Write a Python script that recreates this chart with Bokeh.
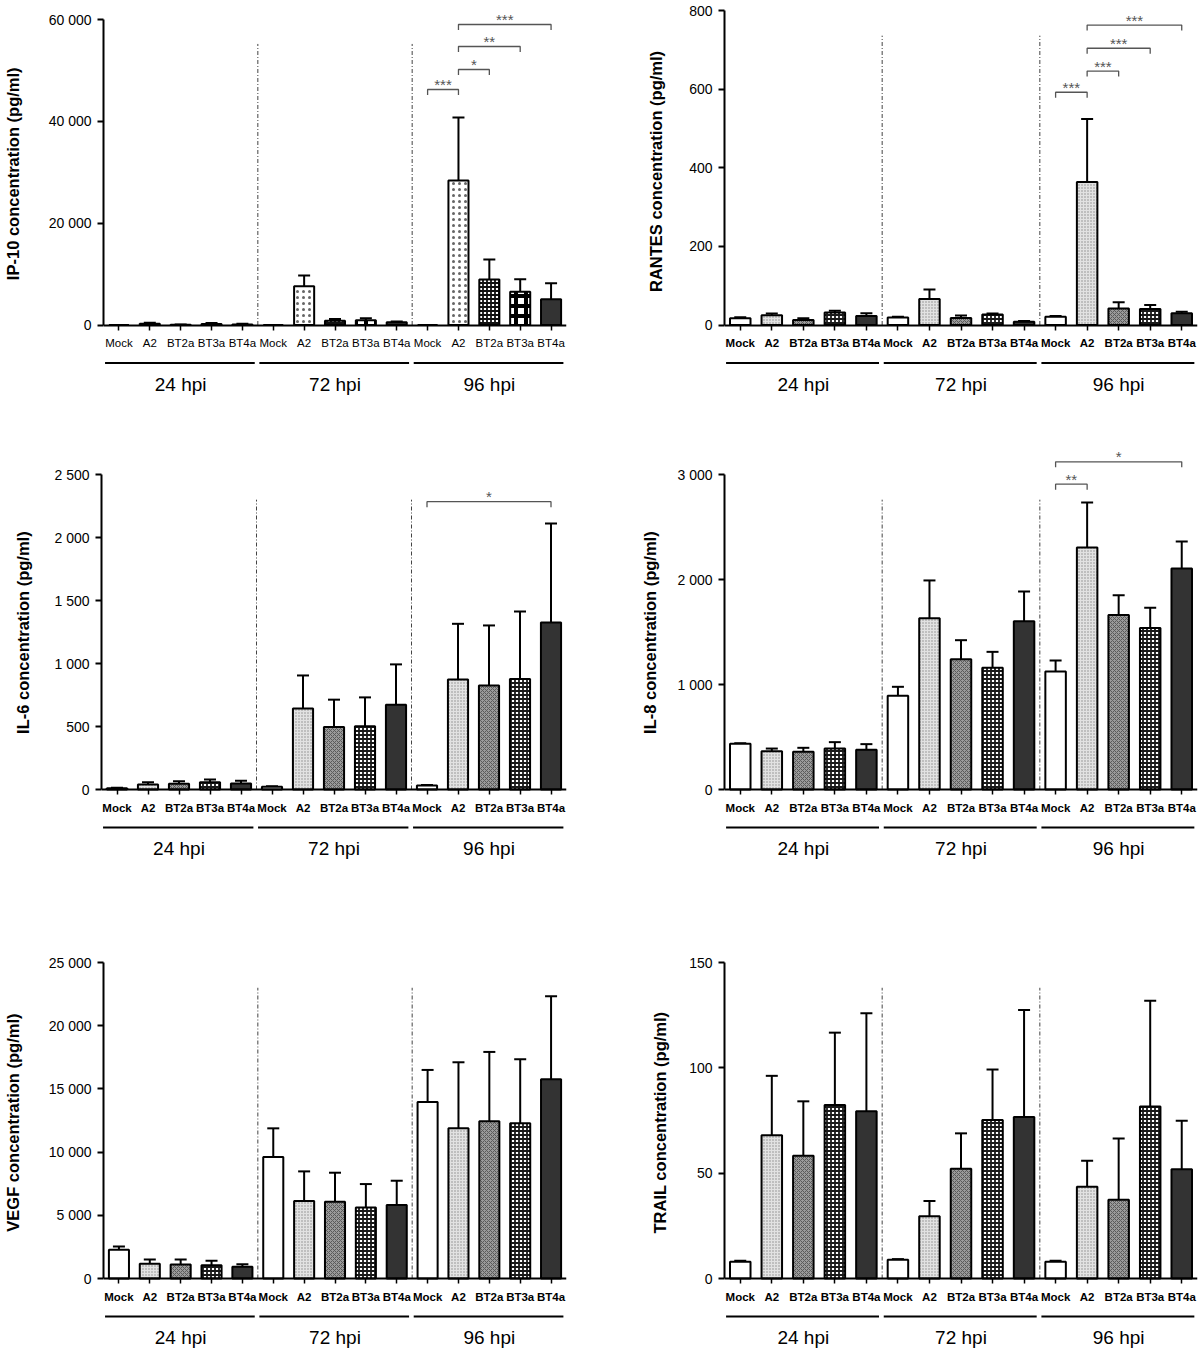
from bokeh.plotting import figure
from bokeh.layouts import column, row
from bokeh.models import ColumnDataSource, Range1d, FixedTicker, Whisker, TeeHead
from bokeh.core.properties import value
from bokeh.embed import file_html
from bokeh.resources import INLINE

# ---------------- data ----------------
treatments = ["Mock", "A2", "BT2a", "BT3a", "BT4a"]
timepoints = ["24 hpi", "72 hpi", "96 hpi"]

ip10_mean = [0, 230, 60, 180, 120, 0, 7620, 820, 950, 550, 0, 28380, 8940, 6520, 5070]
ip10_sd = [0, 220, 60, 220, 130, 0, 2100, 380, 390, 140, 0, 12370, 3920, 2480, 3140]
ip10_ticks = [0, 20000, 40000, 60000]
ip10_sig = [(10, 11, 46250, "***"), (11, 12, 50180, "*"), (11, 13, 54700, "**"), (11, 14, 59020, "***")]

rantes_mean = [17, 25, 13, 32, 23, 19, 66, 18, 27, 8, 21, 364, 42, 41, 30]
rantes_sd = [3, 4, 4, 4, 7, 2, 24, 6, 2, 2, 2, 160, 16, 10, 4]
rantes_ticks = [0, 200, 400, 600, 800]
rantes_sig = [(10, 11, 592, "***"), (11, 12, 646, "***"), (11, 13, 704, "***"), (11, 14, 763, "***")]

il6_mean = [10, 40, 45, 58, 48, 21, 642, 496, 502, 673, 32, 874, 826, 877, 1325]
il6_sd = [4, 18, 21, 21, 21, 4, 263, 217, 229, 320, 3, 441, 476, 535, 787]
il6_ticks = [0, 500, 1000, 1500, 2000, 2500]
il6_sig = [(10, 14, 2284, "*")]

il8_mean = [435, 365, 359, 390, 378, 892, 1632, 1241, 1159, 1603, 1124, 2305, 1661, 1537, 2105]
il8_sd = [5, 25, 38, 61, 54, 86, 359, 181, 152, 283, 105, 429, 190, 193, 257]
il8_ticks = [0, 1000, 2000, 3000]
il8_sig = [(10, 11, 2908, "**"), (10, 14, 3121, "*")]

vegf_mean = [2270, 1162, 1109, 1056, 924, 9610, 6125, 6072, 5623, 5808, 13965, 11880, 12434, 12276, 15760]
vegf_sd = [264, 343, 396, 343, 211, 2270, 2349, 2297, 1848, 1927, 2535, 5227, 5491, 5068, 6574]
vegf_ticks = [0, 5000, 10000, 15000, 20000, 25000]
vegf_sig = []

trail_mean = [7.9, 68.0, 58.3, 82.4, 79.4, 8.9, 29.5, 52.1, 75.2, 76.7, 7.9, 43.6, 37.4, 81.6, 51.8]
trail_sd = [0.5, 28.2, 25.8, 34.3, 46.5, 0.3, 7.3, 16.8, 24.0, 50.7, 0.5, 12.3, 29.0, 50.2, 23.1]
trail_ticks = [0, 50, 100, 150]
trail_sig = []

# ---------------- styles ----------------
FONT = "Liberation Sans"

STYLE_STD = {
    "Mock": dict(fill="#ffffff", hatch=" ", hcol="#000000", hscale=4, hw=1),
    "A2": dict(fill="#e2e2e2", hatch=".", hcol="#8a8a8a", hscale=3, hw=0.8),
    "BT2a": dict(fill="#9a9a9a", hatch="x", hcol="#5a5a5a", hscale=4, hw=1),
    "BT3a": dict(fill="#ffffff", hatch="+", hcol="#1a1a1a", hscale=4, hw=1.8),
    "BT4a": dict(fill="#333333", hatch=" ", hcol="#333333", hscale=4, hw=1),
}
STYLE_IP10 = {
    "Mock": dict(fill="#ffffff", hatch=" ", hcol="#000000", hscale=4, hw=1),
    "A2": dict(fill="#ffffff", hatch=".", hcol="#666666", hscale=6, hw=0.5),
    "BT2a": dict(fill="#ffffff", hatch="+", hcol="#111111", hscale=4, hw=1.8),
    "BT3a": dict(fill="#ffffff", hatch="+", hcol="#000000", hscale=10, hw=4),
    "BT4a": dict(fill="#333333", hatch=" ", hcol="#333333", hscale=4, hw=1),
}


def fmt(v):
    return f"{v:,}".replace(",", " ")


def panel(ylabel, mean, sd, ticks, sig, styles, cat_bold, geom, label_standoff, label_shift):
    (fig_l, fig_r, frame_l, frame_r, fig_t, fig_b, frame_t, frame_b, ymax_px, zero_px) = geom
    ymax = ticks[-1]
    per = ymax / (zero_px - ymax_px)           # data units per pixel
    y0 = -(frame_b - zero_px) * per
    y1 = ymax + (ymax_px - frame_t) * per

    p = figure(width=int(fig_r - fig_l), height=int(fig_b - fig_t),
               x_range=Range1d(-0.5, 14.5), y_range=Range1d(y0, y1),
               output_backend="svg", toolbar_location=None,
               min_border_left=int(frame_l - fig_l), min_border_right=int(fig_r - frame_r),
               min_border_top=int(frame_t - fig_t), min_border_bottom=int(fig_b - frame_b))
    p.outline_line_color = None
    p.grid.visible = False
    p.background_fill_color = "white"
    p.border_fill_color = "white"

    n = len(mean)
    xs = list(range(n))
    cats = [treatments[i % 5] for i in xs]
    tops = [m + s for m, s in zip(mean, sd)]
    src = ColumnDataSource(dict(
        x=xs, mean=mean, top=tops,
        fill=[styles[c]["fill"] for c in cats],
        hatch=[styles[c]["hatch"] for c in cats],
        hcol=[styles[c]["hcol"] for c in cats],
        hscale=[styles[c]["hscale"] for c in cats],
        hw=[styles[c]["hw"] for c in cats],
    ))

    # separators between time points
    sep_top = 0.92 * ymax
    p.segment(x0=[4.5, 9.5], y0=[0, 0], x1=[4.5, 9.5], y1=[sep_top, sep_top],
              line_color="#444444", line_width=1, line_dash="4 2 1 2")

    p.vbar(x="x", top="mean", bottom=0, width=0.65, source=src,
           fill_color="fill", hatch_pattern="hatch", hatch_color="hcol",
           hatch_scale="hscale", hatch_weight="hw",
           line_color="black", line_width=2)

    wh = Whisker(source=src, base="x", upper="top", lower="mean",
                 line_color="black", line_width=2,
                 upper_head=TeeHead(size=12, line_color="black", line_width=2),
                 lower_head=None)
    p.add_layout(wh)

    # significance brackets
    d = 5.5 * per
    for (i, j, yv, lab) in sig:
        p.multi_line(xs=[[i, i, j, j]], ys=[[yv - d, yv, yv, yv - d]],
                     line_color="#555555", line_width=1.3)
        p.text(x=[(i + j) / 2], y=[yv + 5 * per], text=[lab],
               text_align="center", text_baseline="middle",
               text_font=value(FONT), text_font_size="15px", text_color="#555555")

    # time point group lines and labels
    gl_y = -38 * per
    p.segment(x0=[g * 5 - 0.45 for g in range(3)], y0=[gl_y] * 3,
              x1=[g * 5 + 4.4 for g in range(3)], y1=[gl_y] * 3,
              line_color="black", line_width=1.8)
    p.text(x=[g * 5 + 2 for g in range(3)], y=[-59 * per] * 3, text=timepoints,
           text_align="center", text_baseline="middle",
           text_font=value(FONT), text_font_size="19px", text_color="black")

    # axes
    xa = p.xaxis[0]
    xa.fixed_location = 0
    xa.ticker = FixedTicker(ticks=xs)
    xa.major_label_overrides = {i: cats[i] for i in xs}
    xa.major_label_text_font = FONT
    xa.major_label_text_font_size = "11.5px"
    xa.major_label_text_color = "black"
    xa.major_label_text_font_style = "bold" if cat_bold else "normal"
    xa.major_label_standoff = 7
    xa.major_tick_in = 0
    xa.major_tick_out = 5
    xa.major_tick_line_width = 1.5
    xa.minor_tick_line_color = None
    xa.axis_line_width = 2

    ya = p.yaxis[0]
    ya.bounds = (0, ymax)
    ya.ticker = FixedTicker(ticks=ticks)
    ya.major_label_overrides = {t: fmt(t) for t in ticks}
    ya.major_label_text_font = FONT
    ya.major_label_text_font_size = "14px"
    ya.major_label_text_color = "black"
    ya.major_label_standoff = 6
    ya.major_tick_in = 0
    ya.major_tick_out = 6
    ya.major_tick_line_width = 2
    ya.minor_tick_line_color = None
    ya.axis_line_width = 2
    # leading no-break spaces centre the visible label on the axis span rather than the frame
    ya.axis_label = "\u00a0" * label_shift + ylabel
    ya.axis_label_text_font = FONT
    ya.axis_label_text_font_size = "16.5px"
    ya.axis_label_text_font_style = "bold"
    ya.axis_label_text_color = "black"
    ya.axis_label_standoff = label_standoff
    return p


# page geometry (page pixel coordinates; bokeh page has no body margin)
L = (0, 600, 101, 566)
R = (600, 1199, 724, 1197)
ROW1 = (0, 432, 0, 397)
ROW2 = (432, 904, 440, 861)
ROW3 = (904, 1350, 940, 1350)

p1 = panel("IP-10 concentration (pg/ml)", ip10_mean, ip10_sd, ip10_ticks, ip10_sig, STYLE_IP10, False,
           L + ROW1 + (19, 324.5), 24, 11)
p2 = panel("RANTES concentration (pg/ml)", rantes_mean, rantes_sd, rantes_ticks, rantes_sig, STYLE_STD, True,
           R + ROW1 + (10, 324.5), 21, 12)
p3 = panel("IL-6 concentration (pg/ml)", il6_mean, il6_sd, il6_ticks, il6_sig, STYLE_STD, True,
           L + ROW2 + (474, 789), 19, 8)
p4 = panel("IL-8 concentration (pg/ml)", il8_mean, il8_sd, il8_ticks, il8_sig, STYLE_STD, True,
           R + ROW2 + (474, 789), 15, 8)
p5 = panel("VEGF concentration (pg/ml)", vegf_mean, vegf_sd, vegf_ticks, vegf_sig, STYLE_STD, True,
           L + ROW3 + (962, 1278), 24, 10)
p6 = panel("TRAIL concentration (pg/ml)", trail_mean, trail_sd, trail_ticks, trail_sig, STYLE_STD, True,
           R + ROW3 + (962, 1278), 17, 10)

layout = column(row(p1, p2), row(p3, p4), row(p5, p6))
open("out.html", "w").write(file_html(layout, INLINE))
